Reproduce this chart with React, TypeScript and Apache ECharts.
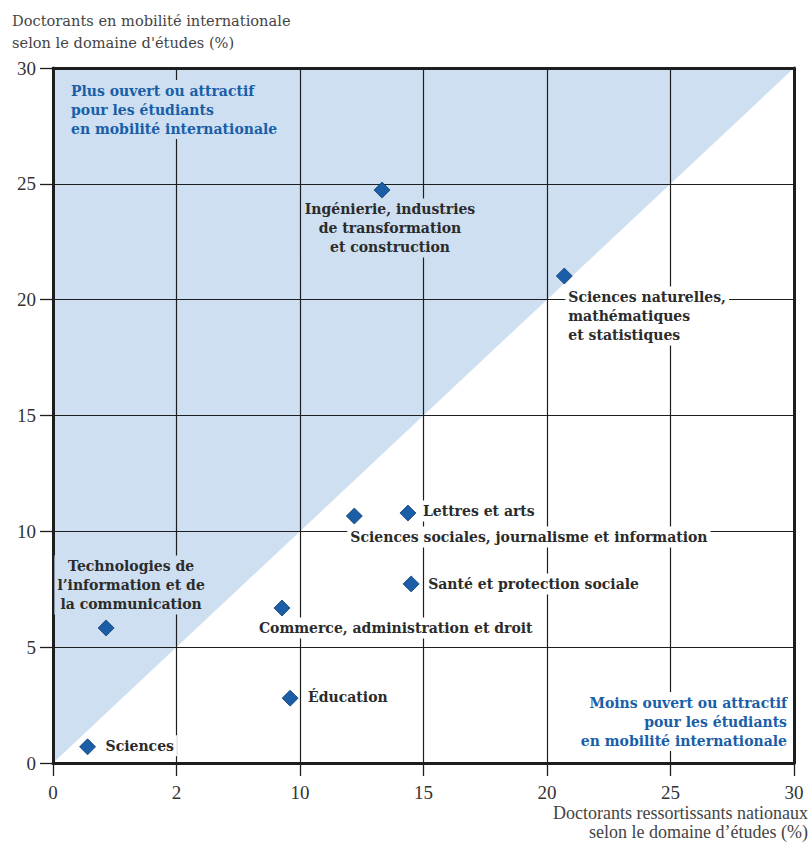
import React, { useEffect, useRef } from "react";
import * as echarts from "echarts";

const categories = [
  "Sciences",
  "Technologies de\nl’information et de\nla communication",
  "Commerce, administration et droit",
  "Éducation",
  "Sciences sociales, journalisme et information",
  "Lettres et arts",
  "Santé et protection sociale",
  "Ingénierie, industries\nde transformation\net construction",
  "Sciences naturelles,\nmathématiques\net statistiques",
];
const nationalValues = [1.4, 2.15, 9.27, 9.6, 12.2, 14.37, 14.5, 13.32, 20.7];
const internationalValues = [0.7, 5.83, 6.69, 2.8, 10.66, 10.79, 7.73, 24.73, 21.02];
const xTickLabels = ["0", "2", "10", "15", "20", "25", "30"];
const yTickLabels = ["0", "5", "10", "15", "20", "25", "30"];
const diagonalRegion = [
  [0, 0],
  [0, 30],
  [30, 30],
];

// label placement styles (pixel offsets from marker centre)
const labelStyles: Record<string, { align: string; offset: number[]; bg: string }> = {
  [categories[0]]: { align: "left", offset: [15, -1], bg: "#ffffff" },
  [categories[1]]: { align: "center", offset: [25, -43], bg: "#cddff0" },
  [categories[2]]: { align: "left", offset: [-26, 20], bg: "#ffffff" },
  [categories[3]]: { align: "left", offset: [15, -1], bg: "#ffffff" },
  [categories[4]]: { align: "left", offset: [-7, 21], bg: "#ffffff" },
  [categories[5]]: { align: "left", offset: [12, -2], bg: "#ffffff" },
  [categories[6]]: { align: "left", offset: [14, 0], bg: "#ffffff" },
  [categories[7]]: { align: "center", offset: [8, 38], bg: "#cddff0" },
  [categories[8]]: { align: "left", offset: [1, 40], bg: "#ffffff" },
};

const BLUE_AREA = "#cddff0";
const LINE = "#1e1e1e";
const SERIF = "'Liberation Serif', 'DejaVu Serif', serif";
const WIDE_SERIF = "'DejaVu Serif', serif";

export default function App() {
  const ref = useRef<HTMLDivElement>(null);
  useEffect(() => {
    document.body.style.margin = "0";
    if (!ref.current) return;
    const chart = echarts.init(ref.current, null, { renderer: "svg" });

    const scatterData = categories.map((name, i) => {
      const s = labelStyles[name];
      return {
        name,
        value: [nationalValues[i], internationalValues[i]],
        label: {
          show: true,
          position: "inside",
          align: s.align,
          verticalAlign: "middle",
          offset: s.offset,
          backgroundColor: s.bg,
          padding: [1, 3],
        },
      };
    });

    const axisCommon = {
      min: 0,
      max: 30,
      interval: 5,
      z: 3,
    };

    chart.setOption({
      animation: false,
      grid: { left: 53, top: 68, width: 741, height: 695 },
      xAxis: [
        {
          ...axisCommon,
          type: "value",
          position: "bottom",
          axisLine: { show: true, onZero: false, lineStyle: { color: LINE, width: 3 } },
          axisTick: { show: true, length: 13, lineStyle: { color: LINE, width: 1.3 } },
          splitLine: { show: true, lineStyle: { color: LINE, width: 1.2 } },
          axisLabel: {
            margin: 20,
            fontFamily: SERIF,
            fontSize: 19,
            color: "#333",
            formatter: (v: number) => xTickLabels[Math.round(v / 5)],
          },
        },
        {
          ...axisCommon,
          type: "value",
          position: "top",
          axisLine: { show: true, onZero: false, lineStyle: { color: LINE, width: 3 } },
          axisTick: { show: false },
          splitLine: { show: false },
          axisLabel: { show: false },
        },
      ],
      yAxis: [
        {
          ...axisCommon,
          type: "value",
          position: "left",
          axisLine: { show: true, onZero: false, lineStyle: { color: LINE, width: 3 } },
          axisTick: { show: true, length: 13, lineStyle: { color: LINE, width: 1.3 } },
          splitLine: { show: true, lineStyle: { color: LINE, width: 1.2 } },
          axisLabel: {
            margin: 17,
            fontFamily: SERIF,
            fontSize: 19,
            color: "#333",
            formatter: (v: number) => yTickLabels[Math.round(v / 5)],
          },
        },
        {
          ...axisCommon,
          type: "value",
          position: "right",
          axisLine: { show: true, onZero: false, lineStyle: { color: LINE, width: 3 } },
          axisTick: { show: false },
          splitLine: { show: false },
          axisLabel: { show: false },
        },
      ],
      series: [
        {
          type: "custom",
          z: 1,
          silent: true,
          xAxisIndex: 0,
          yAxisIndex: 0,
          data: [[0, 0]],
          renderItem: (_p: any, api: any) => ({
            type: "polygon",
            shape: { points: diagonalRegion.map((p) => api.coord(p)) },
            style: { fill: BLUE_AREA },
          }),
        },
        {
          type: "scatter",
          z: 10,
          xAxisIndex: 0,
          yAxisIndex: 0,
          symbol: "diamond",
          symbolSize: [16, 16],
          itemStyle: { color: "#1a5ea8", borderColor: "#163e6e", borderWidth: 0.8, opacity: 1 },
          label: {
            show: true,
            formatter: "{b}",
            fontFamily: WIDE_SERIF,
            fontWeight: "bold",
            fontSize: 14,
            lineHeight: 19,
            color: "#2b2b2b",
          },
          data: scatterData,
        },
      ],
      graphic: [
        {
          type: "text",
          z: 20,
          left: 68,
          top: 80,
          style: {
            text: "Plus ouvert ou attractif\npour les étudiants\nen mobilité internationale",
            fill: "#1a5ea8",
            font: `bold 14px ${WIDE_SERIF}`,
            lineHeight: 19,
            backgroundColor: BLUE_AREA,
            padding: [1, 3],
          },
        },
        {
          type: "text",
          z: 20,
          x: 790,
          y: 692,
          style: {
            text: "Moins ouvert ou attractif\npour les étudiants\nen mobilité internationale",
            fill: "#1a5ea8",
            font: `bold 14px ${WIDE_SERIF}`,
            lineHeight: 19,
            align: "right",
            verticalAlign: "top",
            backgroundColor: "#ffffff",
            padding: [1, 3],
          },
        },
        {
          type: "text",
          z: 20,
          left: 12,
          top: 9,
          style: {
            text: "Doctorants en mobilité internationale\nselon le domaine d'études (%)",
            fill: "#444",
            font: `14.6px ${WIDE_SERIF}`,
            lineHeight: 22,
          },
        },
        {
          type: "text",
          z: 20,
          x: 808,
          y: 803,
          style: {
            text: "Doctorants ressortissants nationaux\nselon le domaine d’études (%)",
            fill: "#444",
            font: `18px ${SERIF}`,
            lineHeight: 19,
            align: "right",
            verticalAlign: "top",
          },
        },
      ],
    });
    return () => chart.dispose();
  }, []);
  return <div ref={ref} style={{ width: 810, height: 842 }} />;
}
